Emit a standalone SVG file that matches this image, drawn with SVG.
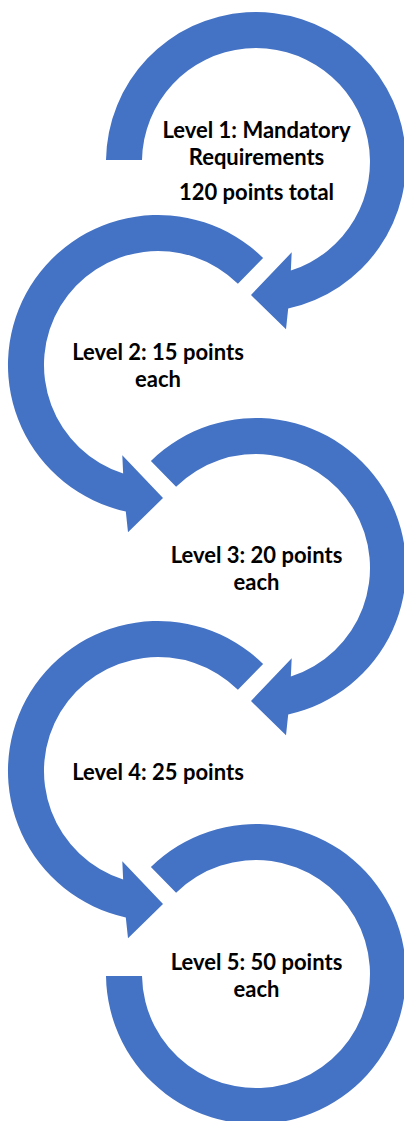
<svg xmlns="http://www.w3.org/2000/svg" width="404" height="1121" viewBox="0 0 404 1121">
<style>
.ring{fill:#4472C4;stroke:none}
.lbl{font-family:Lato,"Liberation Sans",sans-serif;font-weight:bold;font-size:22px;fill:#000;text-anchor:middle}
</style>
<rect width="404" height="1121" fill="#fff"/>
<g id="connectors"></g>
<g id="node1">
<path class="ring" d="M106,160 A150,150 0 1 1 288.2,308.5 L286,329.3 L251,295 L291.7,252.3 L290.85,270.55 A114,114 0 1 0 142,160 Z"/>
<text class="lbl" x="256.5" y="138">Level 1: Mandatory</text>
<text class="lbl" x="256.5" y="165">Requirements</text>
<text class="lbl" x="256.5" y="200">120 points total</text>
</g>
<g id="node2">
<path class="ring" d="M263.1,258 A150,150 0 1 0 125.8,511.5 L128,532.3 L163,498 L122.3,455.3 L123.15,473.55 A114,114 0 1 1 237.9,283.7 Z"/>
<text class="lbl" x="158" y="360">Level 2: 15 points</text>
<text class="lbl" x="158" y="387">each</text>
</g>
<g id="node3">
<path class="ring" d="M150.9,461 A150,150 0 1 1 288.2,714.5 L286,735.3 L251,701 L291.7,658.3 L290.85,676.55 A114,114 0 1 0 176.1,486.7 Z"/>
<text class="lbl" x="256.5" y="563">Level 3: 20 points</text>
<text class="lbl" x="256.5" y="590">each</text>
</g>
<g id="node4">
<path class="ring" d="M263.1,664 A150,150 0 1 0 125.8,917.5 L128,938.3 L163,904 L122.3,861.3 L123.15,879.55 A114,114 0 1 1 237.9,689.7 Z"/>
<text class="lbl" x="158" y="780">Level 4: 25 points</text>
</g>
<g id="node5">
<path class="ring" d="M150.9,867 A150,150 0 1 1 106,976 L142,976 A114,114 0 1 0 176.1,892.7 Z"/>
<text class="lbl" x="256.5" y="970">Level 5: 50 points</text>
<text class="lbl" x="256.5" y="997">each</text>
</g>
</svg>
